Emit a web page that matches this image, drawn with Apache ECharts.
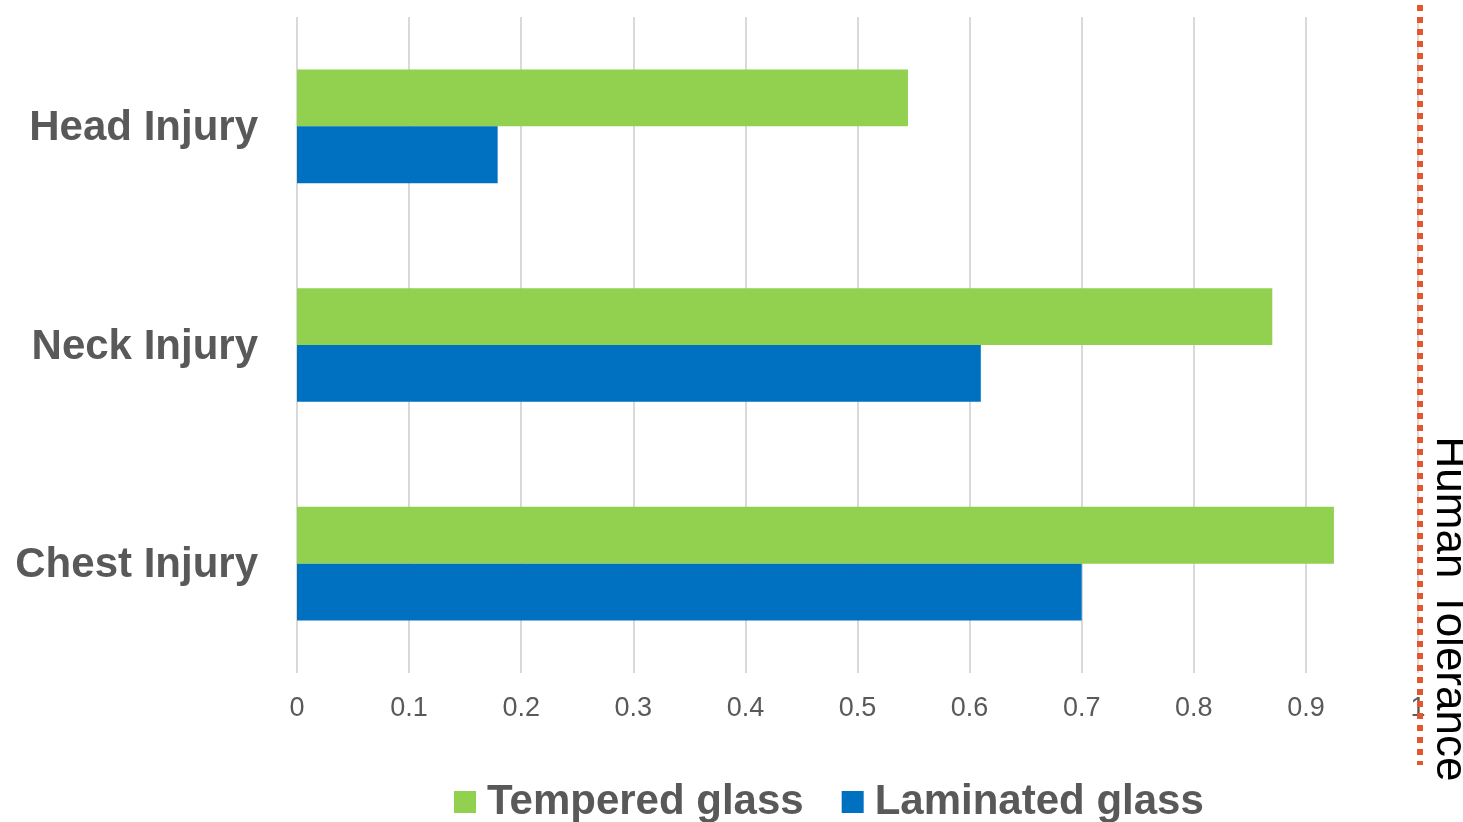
<!DOCTYPE html>
<html>
<head>
<meta charset="utf-8">
<script src="https://cdn.jsdelivr.net/npm/echarts@6/dist/echarts.min.js"></script>
<style>
  html, body { margin: 0; padding: 0; background: #ffffff; }
  #chart { width: 1463px; height: 822px; }
</style>
</head>
<body>
<div id="chart"></div>
<script>
// Injury criteria relative to human tolerance (1.0)
const categories = ['Head Injury', 'Neck Injury', 'Chest Injury'];
const tempered = [0.545, 0.870, 0.925];
const laminated = [0.179, 0.610, 0.700];
const seriesNames = ['Tempered glass', 'Laminated glass'];
const tickLabels = ['0', '0.1', '0.2', '0.3', '0.4', '0.5', '0.6', '0.7', '0.8', '0.9', '1'];
const toleranceValue = 1;
const toleranceLabel = 'Human Tolerance';

const FONT = '"Liberation Sans", Arial, sans-serif';
const GREEN = '#92D050';
const BLUE = '#0070C0';
const ORANGE = '#E4572A';
const TEXT = '#595959';

const chart = echarts.init(document.getElementById('chart'), null, { renderer: 'canvas' });

chart.setOption({
  animation: false,
  backgroundColor: '#ffffff',
  grid: { left: 297, right: 45, top: 17, bottom: 149, containLabel: false },
  legend: {
    data: seriesNames,
    left: 449,
    top: 776,
    icon: 'rect',
    itemWidth: 22,
    itemHeight: 22,
    itemGap: 38,
    textStyle: { fontFamily: FONT, fontSize: 42, fontWeight: 'bold', color: TEXT, padding: [0, 0, 0, 6] }
  },
  xAxis: {
    type: 'value',
    min: 0,
    max: 1,
    interval: 0.1,
    axisLine: { show: false },
    axisTick: { show: false },
    axisLabel: {
      margin: 22,
      fontFamily: FONT,
      fontSize: 27,
      color: TEXT,
      formatter: function (v) { return tickLabels[Math.round(v * 10)]; }
    },
    splitLine: { show: true, lineStyle: { color: '#d9d9d9', width: 2 } }
  },
  yAxis: {
    type: 'category',
    data: categories,
    inverse: true,
    axisLine: { show: false },
    axisTick: { show: false },
    axisLabel: {
      margin: 39,
      fontFamily: FONT,
      fontSize: 42,
      fontWeight: 'bold',
      color: TEXT,
      formatter: function (v) { return '{c|' + v + '}'; },
      rich: { c: { fontFamily: FONT, fontSize: 42, fontWeight: 'bold', color: TEXT, padding: [4, 0, 0, 0] } }
    }
  },
  series: [
    {
      name: seriesNames[0],
      type: 'bar',
      data: tempered,
      itemStyle: { color: GREEN },
      barGap: '0%',
      barCategoryGap: '48%'
    },
    {
      name: seriesNames[1],
      type: 'bar',
      data: laminated,
      itemStyle: { color: BLUE },
      barGap: '0%',
      barCategoryGap: '48%'
    }
  ]
});

// Dotted tolerance line and its rotated caption, placed from the axis scale
const tx = chart.convertToPixel({ xAxisIndex: 0 }, toleranceValue) + 2;
chart.setOption({
  graphic: [
    {
      type: 'line',
      z: 100,
      shape: { x1: tx, y1: 5, x2: tx, y2: 765 },
      style: { stroke: ORANGE, lineWidth: 6, lineDash: [6, 6], lineCap: 'butt' }
    },
    {
      type: 'text',
      z: 100,
      x: tx + 29,
      y: 609,
      rotation: -Math.PI / 2,
      style: {
        text: toleranceLabel,
        fontFamily: FONT,
        fontSize: 44,
        fill: '#000000',
        align: 'center',
        verticalAlign: 'middle'
      }
    }
  ]
});
</script>
</body>
</html>
